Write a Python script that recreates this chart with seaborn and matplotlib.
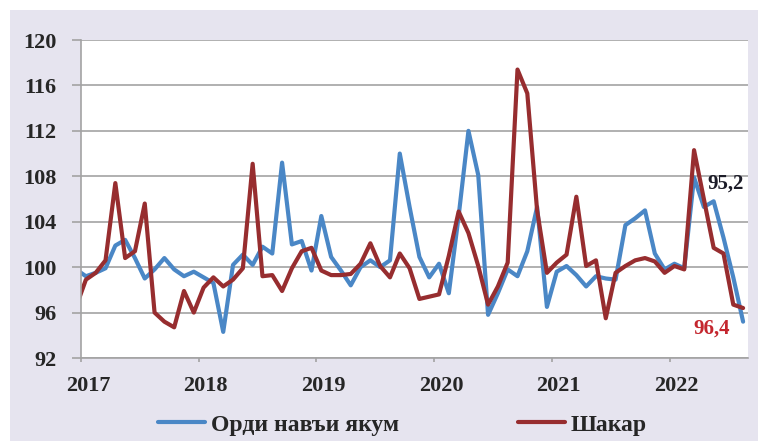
"""Monthly price index: first-grade flour vs sugar, 2017-2022."""

import matplotlib.pyplot as plt
import matplotlib.transforms as mtransforms
from matplotlib.patches import Rectangle
import pandas as pd
import seaborn as sns

# months Dec 2016 .. Aug 2022 (Dec 2016 sits just left of the axis and is clipped)
MONTHS = pd.date_range("2016-12-01", "2022-08-01", freq="MS")

FLOUR = [
    99.8,
    99.2, 99.5, 99.9, 101.9, 102.4, 100.8, 99.0, 99.8, 100.8, 99.8, 99.2, 99.6,
    99.1, 98.6, 94.3, 100.2, 101.1, 100.2, 101.8, 101.2, 109.2, 102.0, 102.3, 99.7,
    104.5, 100.9, 99.7, 98.4, 100.0, 100.6, 100.0, 100.6, 110.0, 105.3, 100.9, 99.1,
    100.3, 97.7, 104.5, 112.0, 108.1, 95.8, 97.7, 99.8, 99.2, 101.4, 105.3, 96.5,
    99.6, 100.1, 99.3, 98.3, 99.2, 99.0, 98.9, 103.7, 104.3, 105.0, 101.2, 99.8,
    100.3, 99.9, 107.9, 105.3, 105.8, 102.6, 99.1, 95.2,
]
SUGAR = [
    96.5,
    98.9, 99.5, 100.6, 107.4, 100.8, 101.4, 105.6, 96.0, 95.2, 94.7, 97.9, 96.0,
    98.2, 99.1, 98.3, 98.9, 99.9, 109.1, 99.2, 99.3, 97.9, 99.9, 101.4, 101.7,
    99.7, 99.3, 99.3, 99.4, 100.3, 102.1, 100.1, 99.1, 101.2, 99.9, 97.2, 97.4,
    97.6, 101.0, 104.9, 103.0, 100.1, 96.7, 98.3, 100.4, 117.4, 115.3, 105.0, 99.5,
    100.4, 101.1, 106.2, 100.1, 100.6, 95.5, 99.5, 100.1, 100.6, 100.8, 100.5, 99.5,
    100.1, 99.8, 110.3, 106.0, 101.7, 101.2, 96.7, 96.4,
]
SERIES_NAMES = ["Орди навъи якум", "Шакар"]
YEARS = [2017, 2018, 2019, 2020, 2021, 2022]
Y_TICKS = [92, 96, 100, 104, 108, 112, 116, 120]
LAST_LABELS = ["95,2", "96,4"]

COLORS = {SERIES_NAMES[0]: "#4a87c6", SERIES_NAMES[1]: "#972d2f"}
LABEL_COLORS = ["#1c1c28", "#c4262e"]
BG = "#e6e4ef"
GRID = "#a3a3a3"

sns.set_style("white")
plt.rcParams["font.family"] = ["Liberation Serif", "DejaVu Serif"]
plt.rcParams["font.weight"] = "bold"

position = MONTHS.year + (MONTHS.month - 0.5) / 12
frame = pd.concat(
    [
        pd.DataFrame({"x": position, "value": FLOUR, "series": SERIES_NAMES[0]}),
        pd.DataFrame({"x": position, "value": SUGAR, "series": SERIES_NAMES[1]}),
    ],
    ignore_index=True,
)

fig = plt.figure(figsize=(7.58, 4.41), dpi=100)
fig.patch.set_facecolor("white")
fig.patches.append(
    Rectangle((10 / 758, 0), 1, 1 - 10 / 441, transform=fig.transFigure,
              facecolor=BG, edgecolor="none", zorder=-10)
)
ax = fig.add_axes([81 / 758, 83 / 441, 667 / 758, 318 / 441])
ax.set_facecolor("white")

sns.lineplot(
    data=frame, x="x", y="value", hue="series", hue_order=SERIES_NAMES,
    palette=COLORS, linewidth=3.0, ax=ax, legend=True,
)

ax.set_xlim(2017, 2017 + 68 / 12)
ax.set_ylim(92, 120)
ax.set_yticks(Y_TICKS)
ax.set_xticks(YEARS)
ax.set_xticklabels([str(y) for y in YEARS])
ax.set_xlabel("")
ax.set_ylabel("")
ax.yaxis.grid(True, color=GRID, linewidth=1.2)
ax.set_axisbelow(True)

for side in ["top", "right"]:
    ax.spines[side].set_visible(False)
for side in ["left", "bottom"]:
    ax.spines[side].set_color(GRID)
    ax.spines[side].set_linewidth(1.2)

ax.tick_params(axis="y", direction="out", length=6.5, width=1.2, color=GRID,
               pad=11, labelsize=16, left=True)
ax.tick_params(axis="x", direction="out", length=3, width=1.2, color=GRID,
               pad=10, labelsize=16, bottom=True)
shift = mtransforms.ScaledTranslation(7 / 100, 0, fig.dpi_scale_trans)
for label in ax.get_xticklabels():
    label.set_transform(label.get_transform() + shift)
for label in ax.get_xticklabels() + ax.get_yticklabels():
    label.set_fontweight("bold")

handles, labels = ax.get_legend_handles_labels()
ax.legend(
    handles, labels, loc="center", bbox_to_anchor=(0.482, -0.21), ncol=2,
    frameon=False, handlelength=2.0, handletextpad=0.25, columnspacing=5.0,
    prop={"family": "Liberation Serif", "weight": "bold", "size": 17},
)

ax.text(0.967, 0.55, LAST_LABELS[0], transform=ax.transAxes, ha="center",
        va="center", fontsize=15, fontweight="bold", color=LABEL_COLORS[0])
ax.text(0.946, 0.094, LAST_LABELS[1], transform=ax.transAxes, ha="center",
        va="center", fontsize=15, fontweight="bold", color=LABEL_COLORS[1])

fig.savefig("out.png", dpi=100, facecolor=fig.get_facecolor())
